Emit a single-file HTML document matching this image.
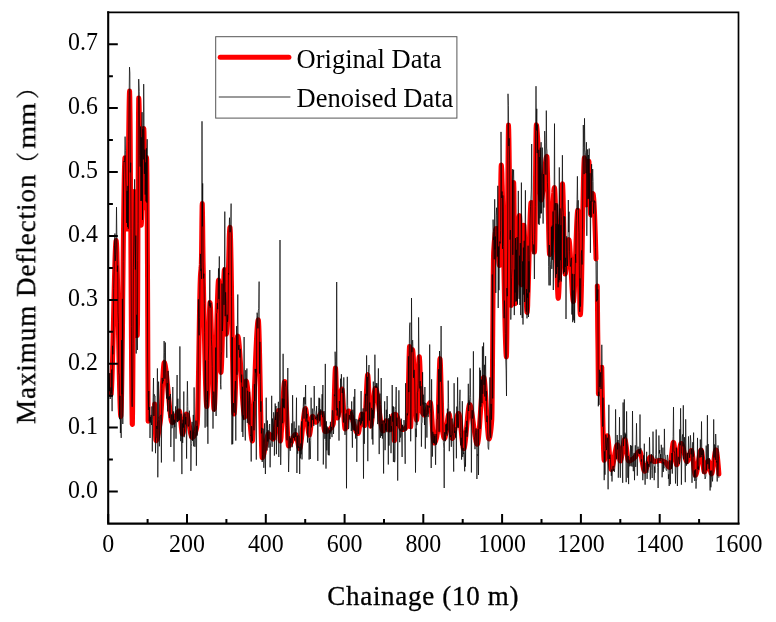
<!DOCTYPE html>
<html lang="en">
<head>
<meta charset="utf-8">
<title>Maximum Deflection vs Chainage</title>
<style>
html,body{margin:0;padding:0;background:#fff;}
body{width:776px;height:622px;overflow:hidden;}
svg{display:block;}
text{font-family:"Liberation Serif","Noto Serif CJK SC",serif;fill:#000;}
.tick{font-size:26px;}
.ttl{font-size:27px;stroke:#000;stroke-width:0.3px;}
.leg{font-size:26.5px;}
</style>
</head>
<body>
<svg width="776" height="622" viewBox="0 0 776 622">
<rect width="776" height="622" fill="#fff"/>
<defs><clipPath id="plot"><rect x="108.2" y="12.3" width="630.3" height="511.2"/></clipPath></defs>
<g clip-path="url(#plot)">
<g fill="none" stroke="#f00" stroke-width="5" stroke-linecap="round" stroke-linejoin="round">
<path d="M108.4 376 L108.6 379.6 L108.8 382.7 L109 385.4 L109.2 387.6 L109.4 389.4 L109.6 390.9 L109.8 392.1 L110 393 L110.2 393.6 L110.4 394 L110.6 394.3 L110.8 394.5 L111 394.5 L111.2 394.1 L111.3 392.4 L111.5 389.6 L111.7 385.7 L111.9 380.8 L112.1 375 L112.3 368.5 L112.5 361.3 L112.7 353.6 L112.9 345.4 L113.1 336.9 L113.3 328.2 L113.5 319.3 L113.7 310.4 L113.9 301.6 L114.1 293 L114.3 284.7 L114.5 276.8 L114.7 269.3 L114.9 262.5 L115.1 256.5 L115.3 251.2 L115.5 246.9 L115.7 243.6 L115.9 241.4 L116.1 240.5 L116.3 241.1 L116.5 243.4 L116.7 247.3 L116.9 252.5 L117 259.1 L117.2 266.7 L117.4 275.3 L117.6 284.7 L117.8 294.7 L118 305.2 L118.2 316 L118.4 327 L118.6 338 L118.8 348.9 L119 359.5 L119.2 369.7 L119.4 379.2 L119.6 388 L119.8 396 L120 402.8 L120.2 408.4 L120.4 412.7 L120.6 415.4 L120.8 416.5 L121 415.1 L121.2 410.7 L121.4 403.4 L121.6 393.7 L121.8 381.8 L122 368 L122.2 352.8 L122.4 336.3 L122.6 319 L122.7 301 L122.9 282.9 L123.1 264.8 L123.3 247.1 L123.5 230.1 L123.7 214.1 L123.9 199.5 L124.1 186.5 L124.3 175.5 L124.5 166.8 L124.7 160.8 L124.9 157.7 L125.1 157.7 L125.3 160.7 L125.5 165.9 L125.7 173 L125.9 181.3 L126.1 190.3 L126.3 199.4 L126.5 208.2 L126.7 216.1 L126.9 222.5 L127.1 227 L127.3 229 L127.5 227 L127.7 219.9 L127.9 208.6 L128.1 194.3 L128.2 177.8 L128.4 160.3 L128.6 142.8 L128.8 126.3 L129 111.8 L129.2 100.4 L129.4 93.2 L129.6 91.1 L129.8 97.4 L130 112.7 L130.2 135.2 L130.4 163.6 L130.6 196.2 L130.8 231.5 L131 268 L131.2 304 L131.4 338.1 L131.6 368.7 L131.8 394.2 L132 413.1 L132.2 423.9 L132.4 424.5 L132.6 411.2 L132.8 386.2 L133 353.2 L133.2 315.8 L133.4 277.8 L133.6 242.7 L133.8 214.3 L133.9 196.1 L134.1 191.6 L134.3 193.9 L134.5 198.9 L134.7 206.3 L134.9 215.7 L135.1 226.6 L135.3 238.7 L135.5 251.5 L135.7 264.7 L135.9 277.9 L136.1 290.7 L136.3 302.6 L136.5 313.2 L136.7 322.3 L136.9 329.2 L137.1 333.8 L137.3 335.5 L137.5 323.9 L137.7 291.7 L137.9 246.8 L138.1 197.1 L138.3 150.4 L138.5 114.8 L138.7 98 L138.9 99.2 L139.1 104.8 L139.3 113.7 L139.5 125.3 L139.6 138.8 L139.8 153.4 L140 168.4 L140.2 183.1 L140.4 196.7 L140.6 208.4 L140.8 217.6 L141 223.4 L141.2 225.2 L141.4 223.3 L141.6 218.6 L141.8 211.7 L142 203 L142.2 193.1 L142.4 182.4 L142.6 171.4 L142.8 160.8 L143 150.8 L143.2 142.1 L143.4 135.2 L143.6 130.5 L143.8 128.5 L144 132.3 L144.2 144.1 L144.4 160.6 L144.6 178.5 L144.8 194.5 L145 205.3 L145.2 207.8 L145.3 204.3 L145.5 197.3 L145.7 188.1 L145.9 178.2 L146.1 168.9 L146.3 161.6 L146.5 157.6 L146.7 159.8 L146.9 173.2 L147.1 197 L147.3 229.8 L147.5 270 L147.7 316.3 L147.9 367.2 L148.1 421.3"/><path d="M154.6 404 L154.8 410.9 L155 417.9 L155.2 424.7 L155.4 430.9 L155.6 435.8 L155.8 439.3 L156 440.7 L156.2 440.7 L156.4 440.5 L156.6 440.2 L156.8 439.9 L157 439.4 L157.2 438.9 L157.4 438.3 L157.6 437.6 L157.8 436.8 L157.9 435.9 L158.1 435 L158.3 434 L158.5 432.9 L158.7 431.8 L158.9 430.7 L159.1 429.5 L159.3 428.3 L159.5 427 L159.7 425.7 L159.9 424.3 L160.1 423 L160.3 421.6 L160.5 420.1 L160.7 418.1 L160.9 415.5 L161.1 412.5 L161.3 409.1 L161.5 405.3 L161.7 401.4 L161.9 397.2 L162.1 393 L162.3 388.8 L162.5 384.6 L162.7 380.6 L162.9 376.8 L163.1 373.3 L163.3 370.1 L163.5 367.4 L163.7 365.2 L163.9 363.6 L164.1 362.7 L164.3 362.5 L164.4 362.7 L164.6 363 L164.8 363.6 L165 364.3 L165.2 365.3 L165.4 366.3 L165.6 367.6 L165.8 368.9 L166 370.4 L166.2 372.1 L166.4 373.8 L166.6 375.6 L166.8 377.5 L167 379.5 L167.2 381.6 L167.4 383.7 L167.6 385.8 L167.8 388 L168 390.2 L168.2 392.4 L168.4 394.7 L168.6 396.9 L168.8 399.1 L169 401.2 L169.2 403.3 L169.4 405.4 L169.6 407.4 L169.8 409.3 L170 411.1 L170.2 412.9 L170.4 414.5 L170.6 416 L170.8 417.4 L170.9 418.6 L171.1 419.7 L171.3 420.7 L171.5 421.4 L171.7 422 L171.9 422.4 L172.1 422.6 L172.3 422.6 L172.5 422.5 L172.7 422.4 L172.9 422.3 L173.1 422.1 L173.3 421.8 L173.5 421.6 L173.7 421.3 L173.9 420.9 L174.1 420.6 L174.3 420.2 L174.5 419.8 L174.7 419.3 L174.9 418.9 L175.1 418.4 L175.3 417.9 L175.5 417.5 L175.7 417 L175.9 416.5 L176.1 416 L176.3 415.5 L176.5 415.1 L176.7 414.6 L176.9 414.2 L177.1 413.7 L177.3 413.3 L177.4 413 L177.6 412.6 L177.8 412.3 L178 412 L178.2 411.7 L178.4 411.5 L178.6 411.3 L178.8 411.1 L179 411.1 L179.2 411 L179.4 411.1 L179.6 411.6 L179.8 412.6 L180 413.9 L180.2 415.5 L180.4 417.4 L180.6 419.4 L180.8 421.5 L181 423.6 L181.2 425.7 L181.4 427.7 L181.6 429.6 L181.8 431.2 L182 432.6 L182.2 433.5 L182.4 434.1 L182.6 434.2 L182.8 433.9 L183 433.4 L183.2 432.7 L183.4 431.7 L183.6 430.6 L183.8 429.3 L183.9 427.9 L184.1 426.5 L184.3 424.9 L184.5 423.4 L184.7 421.9 L184.9 420.4 L185.1 419 L185.3 417.7 L185.5 416.6 L185.7 415.6 L185.9 414.9 L186.1 414.3 L186.3 414 L186.5 414 L186.7 414.2 L186.9 414.5 L187.1 414.9 L187.3 415.5 L187.5 416.2 L187.7 417 L187.9 417.8 L188.1 418.8 L188.3 419.8 L188.5 420.9 L188.7 422 L188.9 423.1 L189.1 424.3 L189.3 425.5 L189.5 426.7 L189.7 427.9 L189.9 429 L190.1 430.2 L190.3 431.2 L190.4 432.3 L190.6 433.3 L190.8 434.2 L191 435 L191.2 435.7 L191.4 436.3 L191.6 436.8 L191.8 437.1 L192 437.3 L192.2 437.4 L192.4 437.4 L192.6 437.3 L192.8 437.2 L193 437.1 L193.2 436.9 L193.4 436.7 L193.6 436.5 L193.8 436.2 L194 435.8 L194.2 435.5 L194.4 435.1 L194.6 434.6 L194.8 434.1 L195 433.6 L195.2 433.1 L195.4 432.5 L195.6 431.8 L195.8 431.2 L196 430.4 L196.2 429.7 L196.4 428.9 L196.6 428 L196.8 427.2 L196.9 426.2 L197.1 425.3 L197.3 423.6 L197.5 419.6 L197.7 413.4 L197.9 405.4 L198.1 395.8 L198.3 385.1 L198.5 373.4 L198.7 361.1 L198.9 348.5 L199.1 335.9 L199.3 323.7 L199.5 312.1 L199.7 301.4 L199.9 292 L200.1 284.2 L200.3 278.3 L200.5 274.4 L200.7 272 L200.9 270 L201.1 267.8 L201.3 264.4 L201.5 255.2 L201.7 238.2 L201.9 219.6 L202.1 206 L202.3 203.5 L202.5 212.6 L202.7 228.4 L202.9 246.2 L203.1 261.4 L203.3 271.9 L203.4 282.4 L203.6 293 L203.8 303.6 L204 314.1 L204.2 324.4 L204.4 334.5 L204.6 344.3 L204.8 353.7 L205 362.6 L205.2 370.9 L205.4 378.5 L205.6 385.4 L205.8 391.5 L206 396.7 L206.2 400.8 L206.4 403.9 L206.6 405.8 L206.8 406.5 L207 405.4 L207.2 402.2 L207.4 397.3 L207.6 390.8 L207.8 383.2 L208 374.6 L208.2 365.4 L208.4 355.9 L208.6 346.3 L208.8 337 L209 328.2 L209.2 320.3 L209.4 313.4 L209.6 308 L209.8 304.3 L209.9 302.6 L210.1 302.9 L210.3 304.6 L210.5 307.5 L210.7 311.6 L210.9 316.6 L211.1 322.3 L211.3 328.8 L211.5 335.8 L211.7 343.1 L211.9 350.7 L212.1 358.4 L212.3 366 L212.5 373.5 L212.7 380.6 L212.9 387.3 L213.1 393.3 L213.3 398.6 L213.5 403 L213.7 406.3 L213.9 408.5 L214.1 409.3 L214.3 408.7 L214.5 406.7 L214.7 403.5 L214.9 399.2 L215.1 393.9 L215.3 387.8 L215.5 380.9 L215.7 373.5 L215.9 365.6 L216.1 357.4 L216.3 348.9 L216.4 340.5 L216.6 332 L216.8 323.8 L217 315.9 L217.2 308.5 L217.4 301.6 L217.6 295.5 L217.8 290.2 L218 285.8 L218.2 282.6 L218.4 280.6 L218.6 280 L218.8 282.2 L219 287.7 L219.2 295.8 L219.4 305.9 L219.6 317.2 L219.8 329.1 L220 340.7 L220.2 351.6 L220.4 360.8 L220.6 367.8 L220.8 371.9 L221 372.5 L221.2 370.9 L221.4 367.8 L221.6 363.3 L221.8 357.6 L222 351 L222.2 343.6 L222.4 335.7 L222.6 327.4 L222.8 318.9 L222.9 310.6 L223.1 302.4 L223.3 294.8 L223.5 287.7 L223.7 281.6 L223.9 276.5 L224.1 272.7 L224.3 270.3 L224.5 269.6 L224.7 272.3 L224.9 278.4 L225.1 287 L225.3 297.1 L225.5 307.7 L225.7 317.7 L225.9 326.1 L226.1 332 L226.3 334.2 L226.5 333.4 L226.7 330.9 L226.9 327 L227.1 321.9 L227.3 315.7 L227.5 308.6 L227.7 300.9 L227.9 292.7 L228.1 284.3 L228.3 275.8 L228.5 267.4 L228.7 259.2 L228.9 251.6 L229.1 244.7 L229.2 238.7 L229.4 233.8 L229.6 230.1 L229.8 227.9 L230 227.3 L230.2 229.2 L230.4 233.4 L230.6 239.7 L230.8 247.9 L231 257.7 L231.2 268.8 L231.4 281 L231.6 293.9 L231.8 307.4 L232 321.2 L232.2 334.9 L232.4 348.4 L232.6 361.3 L232.8 373.4 L233 384.4 L233.2 394.1 L233.4 402.2 L233.6 408.3 L233.8 412.4 L234 414 L234.2 413.5 L234.4 411.8 L234.6 409 L234.8 405.4 L235 400.9 L235.2 395.8 L235.4 390.3 L235.6 384.3 L235.7 378.2 L235.9 371.9 L236.1 365.8 L236.3 359.8 L236.5 354.3 L236.7 349.2 L236.9 344.7 L237.1 341 L237.3 338.2 L237.5 336.5 L237.7 336 L237.9 336.2 L238.1 336.8 L238.3 337.7 L238.5 338.9 L238.7 340.4 L238.9 342.2 L239.1 344.2 L239.3 346.4 L239.5 348.9 L239.7 351.5 L239.9 354.3 L240.1 357.3 L240.3 360.3 L240.5 363.5 L240.7 366.7 L240.9 370 L241.1 373.4 L241.3 376.8 L241.5 380.1 L241.7 383.5 L241.9 386.8 L242.1 390 L242.2 393.2 L242.4 396.2 L242.6 399.1 L242.8 401.9 L243 404.5 L243.2 406.9 L243.4 409.1 L243.6 411.1 L243.8 412.8 L244 414.3 L244.2 415.5 L244.4 416.3 L244.6 416.8 L244.8 417 L245 414.9 L245.2 409.7 L245.4 402.8 L245.6 395.2 L245.8 388.3 L246 383.1 L246.2 381 L246.4 381.2 L246.6 381.7 L246.8 382.5 L247 383.6 L247.2 385 L247.4 386.6 L247.6 388.5 L247.8 390.5 L248 392.8 L248.2 395.2 L248.4 397.7 L248.6 400.4 L248.7 403.1 L248.9 405.9 L249.1 408.7 L249.3 411.6 L249.5 414.4 L249.7 417.3 L249.9 420 L250.1 422.7 L250.3 425.3 L250.5 427.8 L250.7 430.2 L250.9 432.3 L251.1 434.3 L251.3 436.1 L251.5 437.6 L251.7 438.9 L251.9 439.9 L252.1 440.6 L252.3 440.9 L252.5 440.7 L252.7 438.3 L252.9 433.8 L253.1 427.9 L253.3 421.2 L253.5 414.1 L253.7 407.3 L253.9 401.2 L254.1 396.5 L254.3 391.9 L254.5 387.3 L254.7 382.5 L254.9 377.7 L255.1 372.8 L255.2 368 L255.4 363.2 L255.6 358.4 L255.8 353.8 L256 349.4 L256.2 345.1 L256.4 341 L256.6 337.2 L256.8 333.7 L257 330.4 L257.2 327.6 L257.4 325.1 L257.6 323.1 L257.8 321.5 L258 320.4 L258.2 319.9 L258.4 320.1 L258.6 322.1 L258.8 325.9 L259 331.3 L259.2 338 L259.4 345.9 L259.6 354.7 L259.8 364.3 L260 374.3 L260.2 384.7 L260.4 395.1 L260.6 405.4 L260.8 415.4 L261 424.8 L261.2 433.4 L261.4 441.1 L261.6 447.6 L261.7 452.6 L261.9 456 L262.1 457.6 L262.3 457.7 L262.5 457.5 L262.7 457.2 L262.9 456.9 L263.1 456.4 L263.3 455.8 L263.5 455.1 L263.7 454.4 L263.9 453.6 L264.1 452.7 L264.3 451.8 L264.5 450.8 L264.7 449.8 L264.9 448.7 L265.1 447.6 L265.3 446.6 L265.5 445.5 L265.7 444.4 L265.9 443.3 L266.1 442.2 L266.3 441.2 L266.5 440.2 L266.7 439.2 L266.9 438.3 L267.1 437.5 L267.3 436.7 L267.5 436 L267.7 435.4 L267.9 434.8 L268.1 434.4 L268.2 434 L268.4 433.8 L268.6 433.7 L268.8 433.7 L269 433.8 L269.2 433.9 L269.4 434.1 L269.6 434.3 L269.8 434.5 L270 434.8 L270.2 435.1 L270.4 435.4 L270.6 435.8 L270.8 436.1 L271 436.5 L271.2 436.8 L271.4 437.1 L271.6 437.5 L271.8 437.8 L272 438.1 L272.2 438.3 L272.4 438.5 L272.6 438.7 L272.8 438.9 L273 439 L273.2 439 L273.4 438.9 L273.6 438.6 L273.8 438.2 L274 437.5 L274.2 436.7 L274.4 435.8 L274.6 434.7 L274.7 433.5 L274.9 432.2 L275.1 430.8 L275.3 429.4 L275.5 427.9 L275.7 426.4 L275.9 424.9 L276.1 423.4 L276.3 421.9 L276.5 420.4 L276.7 418.9 L276.9 417.6 L277.1 416.3 L277.3 415 L277.5 413.9 L277.7 413 L277.9 412.1 L278.1 411.5 L278.3 410.9 L278.5 410.6 L278.7 410.5 L278.9 411.6 L279.1 414.9 L279.3 419.6 L279.5 425.1 L279.7 430.6 L279.9 435.6 L280.1 439.2 L280.3 441 L280.5 440.8 L280.7 439.9 L280.9 438.4 L281.1 436.4 L281.2 433.9 L281.4 431 L281.6 427.8 L281.8 424.2 L282 420.5 L282.2 416.6 L282.4 412.7 L282.6 408.7 L282.8 404.7 L283 400.9 L283.2 397.2 L283.4 393.8 L283.6 390.6 L283.8 387.8 L284 385.5 L284.2 383.6 L284.4 382.3 L284.6 381.6 L284.8 381.6 L285 382.5 L285.2 384.3 L285.4 386.8 L285.6 389.9 L285.8 393.6 L286 397.7 L286.2 402.2 L286.4 406.9 L286.6 411.7 L286.8 416.6 L287 421.4 L287.2 426.1 L287.4 430.5 L287.6 434.5 L287.7 438.1 L287.9 441.2 L288.1 443.5 L288.3 445.2 L288.5 445.9 L288.7 446 L288.9 445.9 L289.1 445.8 L289.3 445.7 L289.5 445.5 L289.7 445.2 L289.9 445 L290.1 444.6 L290.3 444.3 L290.5 443.9 L290.7 443.5 L290.9 443.1 L291.1 442.7 L291.3 442.3 L291.5 441.8 L291.7 441.3 L291.9 440.8 L292.1 440.4 L292.3 439.9 L292.5 439.4 L292.7 438.9 L292.9 438.5 L293.1 438 L293.3 437.6 L293.5 437.1 L293.7 436.7 L293.9 436.3 L294.1 436 L294.2 435.7 L294.4 435.4 L294.6 435.1 L294.8 434.9 L295 434.7 L295.2 434.5 L295.4 434.4 L295.6 434.4 L295.8 434.4 L296 434.7 L296.2 435.1 L296.4 435.7 L296.6 436.4 L296.8 437.2 L297 438.1 L297.2 439.1 L297.4 440.2 L297.6 441.3 L297.8 442.3 L298 443.4 L298.2 444.4 L298.4 445.4 L298.6 446.3 L298.8 447.1 L299 447.7 L299.2 448.2 L299.4 448.6 L299.6 448.7 L299.8 448.6 L300 448.3 L300.2 447.7 L300.4 446.8 L300.6 445.8 L300.7 444.6 L300.9 443.2 L301.1 441.7 L301.3 440 L301.5 438.3 L301.7 436.4 L301.9 434.5 L302.1 432.5 L302.3 430.5 L302.5 428.4 L302.7 426.4 L302.9 424.4 L303.1 422.4 L303.3 420.5 L303.5 418.6 L303.7 416.9 L303.9 415.3 L304.1 413.8 L304.3 412.4 L304.5 411.2 L304.7 410.3 L304.9 409.5 L305.1 408.9 L305.3 408.7 L305.5 408.6 L305.7 409 L305.9 409.7 L306.1 410.7 L306.3 411.9 L306.5 413.4 L306.7 415.1 L306.9 416.9 L307.1 418.9 L307.2 420.9 L307.4 422.9 L307.6 424.9 L307.8 426.8 L308 428.6 L308.2 430.3 L308.4 431.8 L308.6 433.1 L308.8 434.1 L309 434.8 L309.2 435.2 L309.4 435.1 L309.6 434.7 L309.8 433.9 L310 432.8 L310.2 431.5 L310.4 430 L310.6 428.4 L310.8 426.7 L311 424.9 L311.2 423.2 L311.4 421.6 L311.6 420.1 L311.8 418.7 L312 417.7 L312.2 416.9 L312.4 416.4 L312.6 416.3 L312.8 416.4 L313 416.6 L313.2 417 L313.4 417.4 L313.6 417.8 L313.7 418.3 L313.9 418.9 L314.1 419.4 L314.3 420 L314.5 420.5 L314.7 421 L314.9 421.4 L315.1 421.8 L315.3 422.1 L315.5 422.2 L315.7 422.3 L315.9 422.3 L316.1 422.2 L316.3 422 L316.5 421.8 L316.7 421.6 L316.9 421.3 L317.1 420.9 L317.3 420.6 L317.5 420.2 L317.7 419.8 L317.9 419.3 L318.1 418.9 L318.3 418.4 L318.5 417.9 L318.7 417.5 L318.9 417 L319.1 416.5 L319.3 416.1 L319.5 415.6 L319.7 415.2 L319.9 414.8 L320.1 414.5 L320.2 414.1 L320.4 413.8 L320.6 413.6 L320.8 413.3 L321 413.2 L321.2 413.1 L321.4 413 L321.6 413.1 L321.8 413.4 L322 414.1 L322.2 415 L322.4 416.1 L322.6 417.4 L322.8 418.8 L323 420.3 L323.2 421.9 L323.4 423.4 L323.6 425 L323.8 426.4 L324 427.8 L324.2 429 L324.4 430 L324.6 430.8 L324.8 431.3 L325 431.5 L325.2 431.5 L325.4 431.5 L325.6 431.5 L325.8 431.5 L326 431.4 L326.2 431.4 L326.4 431.4 L326.6 431.3 L326.7 431.3 L326.9 431.2 L327.1 431.1 L327.3 431.1 L327.5 431 L327.7 430.9 L327.9 430.8 L328.1 430.7 L328.3 430.6 L328.5 430.4 L328.7 430.3 L328.9 430.1 L329.1 430 L329.3 429.8 L329.5 429.7 L329.7 429.5 L329.9 429.3 L330.1 429.1 L330.3 428.8 L330.5 428.6 L330.7 428.4 L330.9 428.1 L331.1 427.9 L331.3 427.6 L331.5 427.3 L331.7 427 L331.9 426.7 L332.1 426.4 L332.3 426 L332.5 425.7 L332.7 425.3 L332.9 424.9 L333.1 424.5 L333.2 424.1 L333.4 423 L333.6 419.8 L333.8 414.9 L334 408.6 L334.2 401.6 L334.4 394.1 L334.6 386.8 L334.8 380.1 L335 374.4 L335.2 370.2 L335.4 367.9 L335.6 368.3 L335.8 371.6 L336 377.4 L336.2 384.7 L336.4 392.8 L336.6 400.9 L336.8 408.3 L337 414 L337.2 417.4 L337.4 418 L337.6 417.7 L337.8 417.1 L338 416.3 L338.2 415.3 L338.4 414 L338.6 412.6 L338.8 411.1 L339 409.4 L339.2 407.6 L339.4 405.8 L339.6 404 L339.7 402.1 L339.9 400.3 L340.1 398.5 L340.3 396.8 L340.5 395.1 L340.7 393.7 L340.9 392.3 L341.1 391.2 L341.3 390.3 L341.5 389.6 L341.7 389.1 L341.9 389 L342.1 389.5 L342.3 390.8 L342.5 392.8 L342.7 395.3 L342.9 398.3 L343.1 401.6 L343.3 405.1 L343.5 408.8 L343.7 412.5 L343.9 416.1 L344.1 419.4 L344.3 422.4 L344.5 425 L344.7 427 L344.9 428.4 L345.1 429 L345.3 428.9 L345.5 428.4 L345.7 427.7 L345.9 426.7 L346.1 425.6 L346.2 424.2 L346.4 422.8 L346.6 421.3 L346.8 419.7 L347 418.1 L347.2 416.6 L347.4 415.2 L347.6 414 L347.8 412.9 L348 412 L348.2 411.4 L348.4 411 L348.6 411 L348.8 411.1 L349 411.2 L349.2 411.4 L349.4 411.6 L349.6 411.8 L349.8 412.1 L350 412.5 L350.2 412.9 L350.4 413.3 L350.6 413.8 L350.8 414.3 L351 414.8 L351.2 415.3 L351.4 415.9 L351.6 416.5 L351.8 417.1 L352 417.8 L352.2 418.4 L352.4 419.1 L352.6 419.8 L352.7 420.5 L352.9 421.2 L353.1 421.9 L353.3 422.6 L353.5 423.3 L353.7 424 L353.9 424.6 L354.1 425.3 L354.3 426 L354.5 426.7 L354.7 427.3 L354.9 427.9 L355.1 428.5 L355.3 429.1 L355.5 429.7 L355.7 430.2 L355.9 430.7 L356.1 431.2 L356.3 431.6 L356.5 432 L356.7 432.3 L356.9 432.6 L357.1 432.9 L357.3 433.1 L357.5 433.3 L357.7 433.4 L357.9 433.5 L358.1 433.5 L358.3 433.2 L358.5 432.8 L358.7 432 L358.9 431.1 L359.1 430 L359.2 428.8 L359.4 427.5 L359.6 426 L359.8 424.6 L360 423.1 L360.2 421.6 L360.4 420.2 L360.6 418.9 L360.8 417.6 L361 416.5 L361.2 415.6 L361.4 414.8 L361.6 414.3 L361.8 414 L362 414.1 L362.2 414.4 L362.4 415.1 L362.6 416.1 L362.8 417.2 L363 418.5 L363.2 419.8 L363.4 421.1 L363.6 422.4 L363.8 423.6 L364 424.5 L364.2 425.3 L364.4 425.7 L364.6 425.7 L364.8 424.8 L365 422.9 L365.2 420.2 L365.4 416.8 L365.6 412.9 L365.7 408.6 L365.9 404 L366.1 399.3 L366.3 394.6 L366.5 390.1 L366.7 385.9 L366.9 382.2 L367.1 379 L367.3 376.7 L367.5 375.2 L367.7 374.7 L367.9 375.5 L368.1 377.5 L368.3 380.5 L368.5 384.4 L368.7 388.8 L368.9 393.7 L369.1 398.9 L369.3 404.1 L369.5 409.2 L369.7 413.9 L369.9 418.2 L370.1 421.6 L370.3 424.2 L370.5 425.7 L370.7 426 L370.9 425.7 L371.1 425 L371.3 424 L371.5 422.8 L371.7 421.3 L371.9 419.6 L372.1 417.8 L372.2 415.7 L372.4 413.6 L372.6 411.3 L372.8 409.1 L373 406.7 L373.2 404.4 L373.4 402.2 L373.6 399.9 L373.8 397.8 L374 395.9 L374.2 394 L374.4 392.4 L374.6 391 L374.8 389.9 L375 389 L375.2 388.5 L375.4 388.3 L375.6 388.4 L375.8 388.6 L376 389 L376.2 389.6 L376.4 390.3 L376.6 391.1 L376.8 392 L377 393 L377.2 394.2 L377.4 395.4 L377.6 396.7 L377.8 398.1 L378 399.6 L378.2 401.1 L378.4 402.6 L378.5 404.2 L378.7 405.8 L378.9 407.5 L379.1 409.2 L379.3 410.8 L379.5 412.5 L379.7 414.1 L379.9 415.7 L380.1 417.3 L380.3 418.8 L380.5 420.3 L380.7 421.8 L380.9 423.1 L381.1 424.4 L381.3 425.6 L381.5 426.7 L381.7 427.7 L381.9 428.6 L382.1 429.3 L382.3 430 L382.5 430.4 L382.7 430.8 L382.9 431 L383.1 431 L383.3 430.8 L383.5 430.4 L383.7 429.8 L383.9 429.2 L384.1 428.4 L384.3 427.5 L384.5 426.6 L384.7 425.6 L384.9 424.7 L385 423.8 L385.2 423 L385.4 422.2 L385.6 421.6 L385.8 421.2 L386 420.9 L386.2 420.8 L386.4 420.9 L386.6 421.3 L386.8 421.8 L387 422.4 L387.2 423.1 L387.4 423.9 L387.6 424.8 L387.8 425.7 L388 426.5 L388.2 427.4 L388.4 428.1 L388.6 428.8 L388.8 429.3 L389 429.7 L389.2 430 L389.4 430 L389.6 429.8 L389.8 429.4 L390 428.9 L390.2 428.3 L390.4 427.5 L390.6 426.6 L390.8 425.6 L391 424.6 L391.2 423.6 L391.4 422.5 L391.5 421.4 L391.7 420.4 L391.9 419.3 L392.1 418.4 L392.3 417.5 L392.5 416.7 L392.7 416.1 L392.9 415.5 L393.1 415.2 L393.3 415 L393.5 416 L393.7 421.2 L393.9 428.7 L394.1 436 L394.3 440.7 L394.5 440.5 L394.7 435.4 L394.9 427.9 L395.1 420.3 L395.3 415.2 L395.5 414.3 L395.7 414.4 L395.9 414.5 L396.1 414.7 L396.3 415 L396.5 415.3 L396.7 415.7 L396.9 416.1 L397.1 416.6 L397.3 417.1 L397.5 417.6 L397.7 418.2 L397.9 418.8 L398 419.4 L398.2 420.1 L398.4 420.7 L398.6 421.4 L398.8 422 L399 422.7 L399.2 423.3 L399.4 424 L399.6 424.6 L399.8 425.2 L400 425.8 L400.2 426.4 L400.4 426.9 L400.6 427.4 L400.8 427.8 L401 428.3 L401.2 428.6 L401.4 428.9 L401.6 429.2 L401.8 429.3 L402 429.5 L402.2 429.5 L402.4 429.5 L402.6 429.5 L402.8 429.5 L403 429.4 L403.2 429.4 L403.4 429.3 L403.6 429.3 L403.8 429.2 L404 429.1 L404.2 429.1 L404.4 429 L404.5 428.9 L404.7 428.7 L404.9 428.6 L405.1 428.5 L405.3 428.3 L405.5 428.1 L405.7 427.9 L405.9 427.7 L406.1 427.5 L406.3 427.3 L406.5 427.1 L406.7 426.8 L406.9 426.6 L407.1 426.3 L407.3 426 L407.5 424 L407.7 419.1 L407.9 412 L408.1 403.3 L408.3 393.6 L408.5 383.4 L408.7 373.3 L408.9 364 L409.1 356 L409.3 350 L409.5 346.4 L409.7 346.9 L409.9 360 L410.1 382 L410.3 405.3 L410.5 422.6 L410.7 426.8 L410.9 423.3 L411 416.1 L411.2 406.2 L411.4 394.8 L411.6 382.8 L411.8 371.3 L412 361.3 L412.2 353.8 L412.4 349.9 L412.6 349.8 L412.8 350.8 L413 352.7 L413.2 355.3 L413.4 358.5 L413.6 362.3 L413.8 366.5 L414 371.1 L414.2 375.9 L414.4 380.9 L414.6 385.9 L414.8 391 L415 395.9 L415.2 400.6 L415.4 405.1 L415.6 409.1 L415.8 412.6 L416 415.6 L416.2 417.8 L416.4 419.3 L416.6 420 L416.8 419.3 L417 417 L417.2 413.1 L417.4 408 L417.5 402 L417.7 395.5 L417.9 388.6 L418.1 381.7 L418.3 375.1 L418.5 369.1 L418.7 364 L418.9 360 L419.1 357.5 L419.3 356.7 L419.5 357.9 L419.7 360.9 L419.9 365.2 L420.1 370.6 L420.3 376.7 L420.5 383.1 L420.7 389.7 L420.9 395.9 L421.1 401.4 L421.3 406 L421.5 409.3 L421.7 411 L421.9 411.5 L422.1 412 L422.3 412.4 L422.5 412.9 L422.7 413.2 L422.9 413.6 L423.1 413.9 L423.3 414.2 L423.5 414.4 L423.7 414.6 L423.9 414.8 L424 414.9 L424.2 415 L424.4 415 L424.6 415 L424.8 414.9 L425 414.7 L425.2 414.5 L425.4 414.1 L425.6 413.8 L425.8 413.3 L426 412.9 L426.2 412.4 L426.4 411.8 L426.6 411.2 L426.8 410.6 L427 410 L427.2 409.4 L427.4 408.8 L427.6 408.1 L427.8 407.5 L428 406.9 L428.2 406.3 L428.4 405.7 L428.6 405.1 L428.8 404.6 L429 404.2 L429.2 403.7 L429.4 403.4 L429.6 403.1 L429.8 402.8 L430 402.6 L430.2 402.5 L430.4 402.5 L430.5 403 L430.7 404 L430.9 405.6 L431.1 407.6 L431.3 409.9 L431.5 412.5 L431.7 415.4 L431.9 418.4 L432.1 421.5 L432.3 424.7 L432.5 427.8 L432.7 430.8 L432.9 433.6 L433.1 436.2 L433.3 438.4 L433.5 440.3 L433.7 441.8 L433.9 442.7 L434.1 443 L434.3 443 L434.5 442.9 L434.7 442.7 L434.9 442.4 L435.1 442.1 L435.3 441.7 L435.5 441.2 L435.7 440.7 L435.9 440.1 L436.1 439.4 L436.3 438.7 L436.5 437.9 L436.7 437 L436.9 436.1 L437 435.1 L437.2 434 L437.4 432.9 L437.6 431.7 L437.8 428.8 L438 423.9 L438.2 417.4 L438.4 409.7 L438.6 401.3 L438.8 392.5 L439 384 L439.2 376 L439.4 369 L439.6 363.5 L439.8 359.9 L440 358.6 L440.2 359.9 L440.4 363.4 L440.6 368.8 L440.8 375.5 L441 383.3 L441.2 391.6 L441.4 400 L441.6 408.2 L441.8 415.7 L442 422 L442.2 426.9 L442.4 429.7 L442.6 431.1 L442.8 432.4 L443 433.5 L443.2 434.6 L443.4 435.6 L443.5 436.4 L443.7 437.1 L443.9 437.7 L444.1 438.1 L444.3 438.3 L444.5 438.4 L444.7 438.2 L444.9 437.8 L445.1 437.1 L445.3 436.3 L445.5 435.2 L445.7 434 L445.9 432.7 L446.1 431.3 L446.3 429.8 L446.5 428.2 L446.7 426.6 L446.9 425 L447.1 423.4 L447.3 421.9 L447.5 420.4 L447.7 419 L447.9 417.8 L448.1 416.6 L448.3 415.7 L448.5 414.9 L448.7 414.4 L448.9 414.1 L449.1 414 L449.3 414.5 L449.5 415.4 L449.7 416.6 L449.9 418.3 L450 420.1 L450.2 422.2 L450.4 424.4 L450.6 426.7 L450.8 428.9 L451 431 L451.2 433 L451.4 434.8 L451.6 436.3 L451.8 437.5 L452 438.2 L452.2 438.4 L452.4 438.3 L452.6 438.1 L452.8 437.8 L453 437.3 L453.2 436.8 L453.4 436.1 L453.6 435.4 L453.8 434.5 L454 433.6 L454.2 432.7 L454.4 431.7 L454.6 430.6 L454.8 429.5 L455 428.4 L455.2 427.2 L455.4 426.1 L455.6 424.9 L455.8 423.8 L456 422.7 L456.2 421.6 L456.4 420.5 L456.5 419.5 L456.7 418.5 L456.9 417.6 L457.1 416.7 L457.3 415.9 L457.5 415.3 L457.7 414.7 L457.9 414.2 L458.1 413.8 L458.3 413.5 L458.5 413.4 L458.7 413.5 L458.9 413.8 L459.1 414.3 L459.3 415.2 L459.5 416.2 L459.7 417.5 L459.9 418.9 L460.1 420.5 L460.3 422.2 L460.5 424 L460.7 425.9 L460.9 427.8 L461.1 429.8 L461.3 431.8 L461.5 433.8 L461.7 435.8 L461.9 437.7 L462.1 439.5 L462.3 441.2 L462.5 442.9 L462.7 444.3 L462.9 445.6 L463 446.7 L463.2 447.6 L463.4 448.2 L463.6 448.6 L463.8 448.7 L464 448.5 L464.2 448 L464.4 447.3 L464.6 446.3 L464.8 445.1 L465 443.7 L465.2 442.1 L465.4 440.3 L465.6 438.5 L465.8 436.5 L466 434.4 L466.2 432.2 L466.4 430 L466.6 427.8 L466.8 425.5 L467 423.3 L467.2 421.1 L467.4 418.9 L467.6 416.8 L467.8 414.8 L468 412.9 L468.2 411.2 L468.4 409.6 L468.6 408.1 L468.8 406.9 L469 405.9 L469.2 405.1 L469.4 404.6 L469.5 404.4 L469.7 404.4 L469.9 404.6 L470.1 405 L470.3 405.4 L470.5 406 L470.7 406.7 L470.9 407.5 L471.1 408.5 L471.3 409.5 L471.5 410.6 L471.7 411.8 L471.9 413 L472.1 414.3 L472.3 415.7 L472.5 417.1 L472.7 418.6 L472.9 420 L473.1 421.5 L473.3 423.1 L473.5 424.6 L473.7 426.1 L473.9 427.6 L474.1 429.1 L474.3 430.6 L474.5 432 L474.7 433.4 L474.9 434.8 L475.1 436.1 L475.3 437.3 L475.5 438.5 L475.7 439.5 L475.9 440.5 L476 441.4 L476.2 442.2 L476.4 442.8 L476.6 443.4 L476.8 443.8 L477 444.1 L477.2 444.2 L477.4 444.1 L477.6 443.7 L477.8 443 L478 441.9 L478.2 440.6 L478.4 439 L478.6 437.2 L478.8 435.1 L479 432.8 L479.2 430.4 L479.4 427.8 L479.6 425.1 L479.8 422.3 L480 419.4 L480.2 416.4 L480.4 413.4 L480.6 410.3 L480.8 407.3 L481 404.3 L481.2 401.3 L481.4 398.4 L481.6 395.6 L481.8 392.9 L482 390.4 L482.2 388 L482.4 385.8 L482.5 383.8 L482.7 382 L482.9 380.5 L483.1 379.2 L483.3 378.3 L483.5 377.6 L483.7 377.3 L483.9 377.4 L484.1 378 L484.3 379.1 L484.5 380.6 L484.7 382.5 L484.9 384.8 L485.1 387.4 L485.3 390.3 L485.5 393.3 L485.7 396.6 L485.9 400 L486.1 403.5 L486.3 407.1 L486.5 410.6 L486.7 414.2 L486.9 417.6 L487.1 421 L487.3 424.2 L487.5 427.2 L487.7 429.9 L487.9 432.4 L488.1 434.6 L488.3 436.3 L488.5 437.7 L488.7 438.6 L488.9 439 L489 439 L489.2 438.7 L489.4 438.3 L489.6 437.8 L489.8 437 L490 436.1 L490.2 435 L490.4 433.7 L490.6 432.3 L490.8 430.7 L491 428.9 L491.2 426.9 L491.4 424.8 L491.6 422.4 L491.8 419.9 L492 412.4 L492.2 396.9 L492.4 375.7 L492.6 350.9 L492.8 324.9 L493 299.9 L493.2 278 L493.4 261.4 L493.6 252.4 L493.8 249.1 L494 246.1 L494.2 243.3 L494.4 240.8 L494.6 238.4 L494.8 236.4 L495 234.5 L495.2 232.9 L495.4 231.5 L495.5 230.4 L495.7 229.5 L495.9 228.9 L496.1 228.6 L496.3 228.5 L496.5 229.1 L496.7 230.3 L496.9 232.2 L497.1 234.6 L497.3 237.4 L497.5 240.5 L497.7 243.8 L497.9 247.2 L498.1 250.6 L498.3 253.9 L498.5 256.9 L498.7 259.7 L498.9 262 L499.1 263.9 L499.3 265 L499.5 265.5 L499.7 262.2 L499.9 252.6 L500.1 238.5 L500.3 221.8 L500.5 204.4 L500.7 188.2 L500.9 175 L501.1 166.7 L501.3 164.9 L501.5 166.2 L501.7 168.9 L501.9 173.1 L502 178.4 L502.2 184.9 L502.4 192.4 L502.6 200.8 L502.8 209.9 L503 219.6 L503.2 229.8 L503.4 240.3 L503.6 251.1 L503.8 262 L504 272.9 L504.2 283.7 L504.4 294.2 L504.6 304.3 L504.8 313.8 L505 322.8 L505.2 331 L505.4 338.3 L505.6 344.5 L505.8 349.7 L506 353.6 L506.2 356 L506.4 357 L506.6 352.3 L506.8 337.5 L507 314.8 L507.2 286.5 L507.4 254.9 L507.6 222.3 L507.8 191.1 L508 163.4 L508.2 141.7 L508.4 128.2 L508.5 125 L508.7 129 L508.9 137.7 L509.1 150.4 L509.3 166.1 L509.5 184 L509.7 203.3 L509.9 223 L510.1 242.5 L510.3 260.8 L510.5 277.1 L510.7 290.5 L510.9 300.2 L511.1 305.4 L511.3 305.4 L511.5 301 L511.7 293.2 L511.9 282.6 L512.1 270 L512.3 256.1 L512.5 241.5 L512.7 227.1 L512.9 213.6 L513.1 201.7 L513.3 192 L513.5 185.4 L513.7 182.6 L513.9 188.8 L514.1 209 L514.3 237.1 L514.5 266.4 L514.7 290.7 L514.9 303.4 L515 303.7 L515.2 302.6 L515.4 300.6 L515.6 297.9 L515.8 294.5 L516 290.5 L516.2 286.1 L516.4 281.2 L516.6 276 L516.8 270.6 L517 265 L517.2 259.3 L517.4 253.6 L517.6 248 L517.8 242.6 L518 237.5 L518.2 232.7 L518.4 228.3 L518.6 224.4 L518.8 221.1 L519 218.5 L519.2 216.6 L519.4 215.6 L519.6 215.8 L519.8 219.7 L520 227.2 L520.2 237 L520.4 248.1 L520.6 259.4 L520.8 269.8 L521 278.2 L521.2 283.5 L521.4 284.7 L521.5 283.2 L521.7 279.8 L521.9 275 L522.1 269.2 L522.3 262.5 L522.5 255.6 L522.7 248.5 L522.9 241.8 L523.1 235.8 L523.3 230.8 L523.5 227.1 L523.7 225.2 L523.9 225.3 L524.1 227.3 L524.3 230.8 L524.5 235.8 L524.7 241.8 L524.9 248.8 L525.1 256.3 L525.3 264.3 L525.5 272.3 L525.7 280.3 L525.9 287.9 L526.1 294.9 L526.3 301.1 L526.5 306.2 L526.7 310 L526.9 312.1 L527.1 312.5 L527.3 311.3 L527.5 308.8 L527.7 305.1 L527.8 300.4 L528 294.7 L528.2 288.3 L528.4 281.4 L528.6 273.9 L528.8 266.2 L529 258.3 L529.2 250.4 L529.4 242.6 L529.6 235.1 L529.8 228 L530 221.5 L530.2 215.7 L530.4 210.8 L530.6 206.9 L530.8 204.1 L531 202.7 L531.2 202.6 L531.4 203.5 L531.6 205.2 L531.8 207.5 L532 210.4 L532.2 213.8 L532.4 217.5 L532.6 221.5 L532.8 225.6 L533 229.8 L533.2 233.9 L533.4 237.9 L533.6 241.5 L533.8 244.8 L534 247.6 L534.2 249.8 L534.3 251.3 L534.5 252 L534.7 249.4 L534.9 238.7 L535.1 221.9 L535.3 201.3 L535.5 179.3 L535.7 158.3 L535.9 140.6 L536.1 128.7 L536.3 124.8 L536.5 125.2 L536.7 126.3 L536.9 128 L537.1 130.3 L537.3 133 L537.5 136.1 L537.7 139.7 L537.9 143.5 L538.1 147.6 L538.3 151.9 L538.5 156.3 L538.7 160.9 L538.9 165.4 L539.1 169.9 L539.3 174.3 L539.5 178.5 L539.7 182.5 L539.9 186.3 L540.1 189.7 L540.3 192.7 L540.5 195.3 L540.7 197.4 L540.8 198.9 L541 199.8 L541.2 200 L541.4 199.8 L541.6 199.2 L541.8 198.4 L542 197.4 L542.2 196.1 L542.4 194.7 L542.6 193 L542.8 191.2 L543 189.2 L543.2 187.1 L543.4 185 L543.6 182.8 L543.8 180.5 L544 178.2 L544.2 175.9 L544.4 173.6 L544.6 171.4 L544.8 169.2 L545 167.2 L545.2 165.2 L545.4 163.4 L545.6 161.7 L545.8 160.3 L546 159 L546.2 157.9 L546.4 157.1 L546.6 156.6 L546.8 156.4 L547 157.3 L547.2 160.7 L547.3 166.3 L547.5 173.6 L547.7 182.3 L547.9 192 L548.1 202.2 L548.3 212.5 L548.5 222.6 L548.7 232 L548.9 240.2 L549.1 247 L549.3 251.8 L549.5 254.3 L549.7 254.5 L549.9 253.8 L550.1 252.6 L550.3 250.8 L550.5 248.6 L550.7 246 L550.9 243 L551.1 239.8 L551.3 236.2 L551.5 232.5 L551.7 228.6 L551.9 224.6 L552.1 220.6 L552.3 216.5 L552.5 212.6 L552.7 208.7 L552.9 205 L553.1 201.5 L553.3 198.3 L553.5 195.4 L553.7 192.9 L553.8 190.8 L554 189.2 L554.2 188.1 L554.4 187.6 L554.6 188 L554.8 190.1 L555 193.8 L555.2 198.8 L555.4 204.9 L555.6 212 L555.8 219.8 L556 228.2 L556.2 236.9 L556.4 245.7 L556.6 254.5 L556.8 263 L557 271 L557.2 278.4 L557.4 284.9 L557.6 290.4 L557.8 294.6 L558 297.3 L558.2 298.4 L558.4 297.8 L558.6 295.9 L558.8 292.8 L559 288.7 L559.2 283.6 L559.4 277.7 L559.6 271.2 L559.8 264.2 L560 256.7 L560.2 249 L560.3 241.1 L560.5 233.3 L560.7 225.6 L560.9 218.1 L561.1 211 L561.3 204.5 L561.5 198.6 L561.7 193.6 L561.9 189.4 L562.1 186.3 L562.3 184.4 L562.5 183.8 L562.7 185.5 L562.9 189.8 L563.1 196.2 L563.3 204.3 L563.5 213.6 L563.7 223.6 L563.9 233.8 L564.1 243.8 L564.3 253.1 L564.5 261.3 L564.7 267.8 L564.9 272.2 L565.1 274 L565.3 273.8 L565.5 273.1 L565.7 271.9 L565.9 270.4 L566.1 268.5 L566.3 266.4 L566.5 264 L566.7 261.5 L566.8 258.9 L567 256.2 L567.2 253.6 L567.4 251 L567.6 248.5 L567.8 246.3 L568 244.3 L568.2 242.5 L568.4 241.2 L568.6 240.2 L568.8 239.7 L569 239.8 L569.2 240.6 L569.4 241.9 L569.6 243.8 L569.8 246.2 L570 249 L570.2 252.2 L570.4 255.6 L570.6 259.4 L570.8 263.3 L571 267.3 L571.2 271.3 L571.4 275.4 L571.6 279.3 L571.8 283.2 L572 286.8 L572.2 290.2 L572.4 293.3 L572.6 295.9 L572.8 298.2 L573 299.9 L573.2 301.1 L573.3 301.6 L573.5 301.3 L573.7 300 L573.9 297.8 L574.1 294.8 L574.3 291 L574.5 286.6 L574.7 281.6 L574.9 276.2 L575.1 270.5 L575.3 264.5 L575.5 258.4 L575.7 252.3 L575.9 246.2 L576.1 240.3 L576.3 234.6 L576.5 229.3 L576.7 224.4 L576.9 220 L577.1 216.4 L577.3 213.4 L577.5 211.3 L577.7 210.2 L577.9 210.3 L578.1 213.3 L578.3 219.1 L578.5 227.3 L578.7 237.2 L578.9 248.3 L579.1 260 L579.3 271.8 L579.5 283.3 L579.7 293.7 L579.8 302.6 L580 309.4 L580.2 313.6 L580.4 314.7 L580.6 313.1 L580.8 309.6 L581 304.2 L581.2 297.3 L581.4 289.1 L581.6 279.7 L581.8 269.5 L582 258.6 L582.2 247.2 L582.4 235.6 L582.6 224.1 L582.8 212.8 L583 201.9 L583.2 191.7 L583.4 182.5 L583.6 174.4 L583.8 167.6 L584 162.4 L584.2 159 L584.4 157.7 L584.6 158.4 L584.8 160.8 L585 164.4 L585.2 169.1 L585.4 174.5 L585.6 180.2 L585.8 186 L586 191.5 L586.2 196.5 L586.3 200.6 L586.5 203.5 L586.7 204.9 L586.9 204.4 L587.1 202 L587.3 198 L587.5 192.8 L587.7 187 L587.9 180.8 L588.1 174.9 L588.3 169.5 L588.5 165.2 L588.7 162.3 L588.9 161.3 L589.1 163.5 L589.3 168.9 L589.5 176.6 L589.7 185.5 L589.9 194.7 L590.1 203.2 L590.3 210 L590.5 214 L590.7 214.6 L590.9 213.9 L591.1 212.6 L591.3 210.7 L591.5 208.4 L591.7 205.9 L591.9 203.4 L592.1 200.8 L592.3 198.5 L592.5 196.5 L592.7 194.9 L592.8 193.9 L593 193.7 L593.2 194.2 L593.4 195.4 L593.6 197.2 L593.8 199.5 L594 202.5 L594.2 206.1 L594.4 210.1 L594.6 214.7 L594.8 219.8 L595 225.3 L595.2 231.3 L595.4 237.6 L595.6 244.4 L595.8 251.5 L596 259"/><path d="M597.3 286 L597.5 307.6 L597.7 329.2 L598 350.7 L598.2 372.3 L598.4 393.9"/><path d="M601.8 367.3 L602 379 L602.2 390.1 L602.4 400.4 L602.6 409.5 L602.8 418.1 L603 427 L603.2 435.8 L603.4 444 L603.6 451 L603.8 456.4 L604 459.6 L604.2 460.3 L604.4 459.9 L604.6 459 L604.8 457.8 L604.9 456.3 L605.1 454.5 L605.3 452.5 L605.5 450.3 L605.7 448.2 L605.9 446 L606.1 443.8 L606.3 441.8 L606.5 440 L606.7 438.4 L606.9 437.1 L607.1 436.2 L607.3 435.8 L607.5 435.8 L607.7 436.3 L607.9 437.3 L608.1 438.7 L608.3 440.4 L608.5 442.4 L608.7 444.7 L608.9 447.1 L609.1 449.7 L609.3 452.3 L609.5 454.9 L609.7 457.4 L609.9 459.9 L610.1 462.2 L610.3 464.3 L610.5 466.1 L610.7 467.5 L610.9 468.6 L611 469.2 L611.2 469.4 L611.4 469.3 L611.6 469 L611.8 468.7 L612 468.2 L612.2 467.6 L612.4 466.9 L612.6 466.1 L612.8 465.2 L613 464.3 L613.2 463.3 L613.4 462.2 L613.6 461.1 L613.8 460 L614 458.8 L614.2 457.7 L614.4 456.5 L614.6 455.3 L614.8 454.2 L615 453 L615.2 451.9 L615.4 450.9 L615.6 449.9 L615.8 448.9 L616 448 L616.2 447.2 L616.4 446.5 L616.6 445.9 L616.8 445.4 L617 445.1 L617.2 444.8 L617.3 444.7 L617.5 444.8 L617.7 445.3 L617.9 446.2 L618.1 447.3 L618.3 448.7 L618.5 450.2 L618.7 451.8 L618.9 453.5 L619.1 455.1 L619.3 456.6 L619.5 458 L619.7 459.2 L619.9 460.2 L620.1 460.8 L620.3 461 L620.5 460.9 L620.7 460.5 L620.9 460 L621.1 459.2 L621.3 458.3 L621.5 457.3 L621.7 456.1 L621.9 454.9 L622.1 453.6 L622.3 452.2 L622.5 450.8 L622.7 449.3 L622.9 447.9 L623.1 446.6 L623.3 445.2 L623.4 444 L623.6 442.9 L623.8 441.8 L624 441 L624.2 440.2 L624.4 439.7 L624.6 439.4 L624.8 439.3 L625 439.5 L625.2 440 L625.4 440.8 L625.6 441.9 L625.8 443.1 L626 444.5 L626.2 446 L626.4 447.6 L626.6 449.3 L626.8 451 L627 452.6 L627.2 454.2 L627.4 455.8 L627.6 457.2 L627.8 458.4 L628 459.4 L628.2 460.2 L628.4 460.8 L628.6 461 L628.8 461 L629 461 L629.2 461 L629.4 460.9 L629.5 460.9 L629.7 460.8 L629.9 460.7 L630.1 460.7 L630.3 460.6 L630.5 460.5 L630.7 460.4 L630.9 460.3 L631.1 460.2 L631.3 460 L631.5 459.9 L631.7 459.8 L631.9 459.6 L632.1 459.5 L632.3 459.4 L632.5 459.2 L632.7 459.1 L632.9 458.9 L633.1 458.7 L633.3 458.6 L633.5 458.4 L633.7 458.3 L633.9 458.1 L634.1 458 L634.3 457.8 L634.5 457.6 L634.7 457.5 L634.9 457.3 L635.1 457 L635.3 456.8 L635.5 456.5 L635.7 456.2 L635.8 455.9 L636 455.6 L636.2 455.2 L636.4 454.9 L636.6 454.6 L636.8 454.2 L637 453.9 L637.2 453.6 L637.4 453.2 L637.6 452.9 L637.8 452.7 L638 452.4 L638.2 452.1 L638.4 451.9 L638.6 451.7 L638.8 451.5 L639 451.4 L639.2 451.3 L639.4 451.2 L639.6 451.2 L639.8 451.3 L640 451.5 L640.2 451.9 L640.4 452.4 L640.6 453.1 L640.8 453.9 L641 454.7 L641.2 455.7 L641.4 456.7 L641.6 457.8 L641.8 458.9 L641.9 460.1 L642.1 461.2 L642.3 462.4 L642.5 463.5 L642.7 464.7 L642.9 465.7 L643.1 466.8 L643.3 467.7 L643.5 468.6 L643.7 469.4 L643.9 470 L644.1 470.6 L644.3 471 L644.5 471.2 L644.7 471.3 L644.9 471.2 L645.1 471.1 L645.3 470.9 L645.5 470.6 L645.7 470.2 L645.9 469.7 L646.1 469.2 L646.3 468.6 L646.5 468 L646.7 467.3 L646.9 466.7 L647.1 466 L647.3 465.2 L647.5 464.5 L647.7 463.8 L647.9 463 L648 462.3 L648.2 461.6 L648.4 460.9 L648.6 460.2 L648.8 459.6 L649 459.1 L649.2 458.6 L649.4 458.1 L649.6 457.7 L649.8 457.4 L650 457.2 L650.2 457 L650.4 457 L650.6 457 L650.8 457.2 L651 457.3 L651.2 457.6 L651.4 457.8 L651.6 458.2 L651.8 458.5 L652 458.9 L652.2 459.2 L652.4 459.6 L652.6 459.9 L652.8 460.3 L653 460.6 L653.2 460.9 L653.4 461.1 L653.6 461.3 L653.8 461.4 L654 461.5 L654.2 461.5 L654.3 461.5 L654.5 461.5 L654.7 461.5 L654.9 461.4 L655.1 461.4 L655.3 461.4 L655.5 461.3 L655.7 461.3 L655.9 461.3 L656.1 461.2 L656.3 461.2 L656.5 461.1 L656.7 461.1 L656.9 461 L657.1 461 L657.3 460.9 L657.5 460.9 L657.7 460.8 L657.9 460.8 L658.1 460.7 L658.3 460.7 L658.5 460.7 L658.7 460.6 L658.9 460.6 L659.1 460.6 L659.3 460.5 L659.5 460.5 L659.7 460.5 L659.9 460.5 L660.1 460.5 L660.3 460.5 L660.4 460.5 L660.6 460.5 L660.8 460.6 L661 460.6 L661.2 460.6 L661.4 460.7 L661.6 460.7 L661.8 460.8 L662 460.8 L662.2 460.9 L662.4 460.9 L662.6 461 L662.8 461.1 L663 461.1 L663.2 461.2 L663.4 461.3 L663.6 461.4 L663.8 461.4 L664 461.5 L664.2 461.6 L664.4 461.7 L664.6 461.8 L664.8 461.9 L665 462 L665.2 462.1 L665.4 462.2 L665.6 462.4 L665.8 462.7 L666 462.9 L666.2 463.2 L666.4 463.5 L666.5 463.8 L666.7 464.1 L666.9 464.4 L667.1 464.7 L667.3 465 L667.5 465.4 L667.7 465.7 L667.9 466 L668.1 466.2 L668.3 466.5 L668.5 466.7 L668.7 466.9 L668.9 467.1 L669.1 467.3 L669.3 467.3 L669.5 467.4 L669.7 467.4 L669.9 467 L670.1 466.3 L670.3 465.3 L670.5 464.1 L670.7 462.7 L670.9 461.1 L671.1 459.4 L671.3 457.5 L671.5 455.7 L671.7 453.8 L671.9 451.9 L672.1 450.1 L672.3 448.4 L672.5 446.8 L672.7 445.4 L672.8 444.3 L673 443.3 L673.2 442.7 L673.4 442.4 L673.6 442.5 L673.8 443.1 L674 444 L674.2 445.3 L674.4 446.9 L674.6 448.7 L674.8 450.6 L675 452.7 L675.2 454.7 L675.4 456.8 L675.6 458.7 L675.8 460.5 L676 462 L676.2 463.3 L676.4 464.2 L676.6 464.7 L676.8 464.8 L677 464.6 L677.2 464.1 L677.4 463.5 L677.6 462.7 L677.8 461.8 L678 460.7 L678.2 459.5 L678.4 458.2 L678.6 456.9 L678.8 455.5 L678.9 454.1 L679.1 452.7 L679.3 451.3 L679.5 450 L679.7 448.7 L679.9 447.5 L680.1 446.5 L680.3 445.5 L680.5 444.7 L680.7 444.1 L680.9 443.6 L681.1 443.4 L681.3 443.4 L681.5 443.5 L681.7 443.8 L681.9 444.1 L682.1 444.6 L682.3 445.1 L682.5 445.7 L682.7 446.4 L682.9 447.1 L683.1 447.9 L683.3 448.7 L683.5 449.6 L683.7 450.5 L683.9 451.4 L684.1 452.3 L684.3 453.3 L684.5 454.2 L684.7 455.1 L684.9 456 L685 456.8 L685.2 457.6 L685.4 458.4 L685.6 459.1 L685.8 459.7 L686 460.3 L686.2 460.7 L686.4 461.1 L686.6 461.4 L686.8 461.5 L687 461.6 L687.2 461.5 L687.4 461.3 L687.6 461 L687.8 460.7 L688 460.2 L688.2 459.7 L688.4 459.1 L688.6 458.4 L688.8 457.7 L689 457 L689.2 456.3 L689.4 455.6 L689.6 454.9 L689.8 454.2 L690 453.5 L690.2 452.8 L690.4 452.3 L690.6 451.8 L690.8 451.3 L691 451 L691.2 450.7 L691.3 450.5 L691.5 450.5 L691.7 450.8 L691.9 451.4 L692.1 452.2 L692.3 453.4 L692.5 454.7 L692.7 456.3 L692.9 458 L693.1 459.7 L693.3 461.6 L693.5 463.4 L693.7 465.3 L693.9 467.1 L694.1 468.8 L694.3 470.4 L694.5 471.8 L694.7 473.1 L694.9 474 L695.1 474.7 L695.3 475.1 L695.5 475.2 L695.7 475 L695.9 474.7 L696.1 474.3 L696.3 473.7 L696.5 473 L696.7 472.1 L696.9 471.2 L697.1 470.2 L697.3 469.1 L697.4 468 L697.6 466.8 L697.8 465.6 L698 464.3 L698.2 463 L698.4 461.7 L698.6 460.5 L698.8 459.2 L699 458 L699.2 456.8 L699.4 455.7 L699.6 454.6 L699.8 453.6 L700 452.8 L700.2 452 L700.4 451.3 L700.6 450.8 L700.8 450.4 L701 450.1 L701.2 450 L701.4 450.2 L701.6 450.9 L701.8 451.9 L702 453.2 L702.2 454.9 L702.4 456.7 L702.6 458.6 L702.8 460.6 L703 462.6 L703.2 464.6 L703.4 466.5 L703.5 468.2 L703.7 469.6 L703.9 470.8 L704.1 471.6 L704.3 472 L704.5 472 L704.7 471.8 L704.9 471.4 L705.1 471 L705.3 470.4 L705.5 469.8 L705.7 469 L705.9 468.3 L706.1 467.4 L706.3 466.6 L706.5 465.8 L706.7 464.9 L706.9 464.1 L707.1 463.4 L707.3 462.7 L707.5 462.1 L707.7 461.6 L707.9 461.2 L708.1 460.9 L708.3 460.8 L708.5 460.9 L708.7 461.3 L708.9 461.9 L709.1 462.7 L709.3 463.6 L709.5 464.7 L709.7 465.8 L709.8 467 L710 468.2 L710.2 469.4 L710.4 470.5 L710.6 471.5 L710.8 472.4 L711 473.1 L711.2 473.6 L711.4 473.9 L711.6 473.9 L711.8 473.6 L712 473 L712.2 472.3 L712.4 471.4 L712.6 470.3 L712.8 469.1 L713 467.7 L713.2 466.3 L713.4 464.8 L713.6 463.2 L713.8 461.6 L714 460.1 L714.2 458.5 L714.4 457 L714.6 455.6 L714.8 454.3 L715 453.1 L715.2 452.1 L715.4 451.2 L715.6 450.6 L715.8 450.1 L715.9 449.9 L716.1 450 L716.3 450.3 L716.5 451 L716.7 451.9 L716.9 453 L717.1 454.3 L717.3 455.9 L717.5 457.7 L717.7 459.6 L717.9 461.7 L718.1 463.9 L718.3 466.3 L718.5 468.8 L718.7 471.3 L718.9 474"/>
</g>
<path d="M108.6 376.7 L109 378.6 L109.4 391.2 L109.8 373 L110.2 399 L110.6 391.3 L111 387.4 L111.4 393.6 L111.7 369.6 L112.1 411.2 L112.5 345.8 L112.9 354.3 L113.3 338 L113.7 288.6 L114.1 271.6 L114.5 245.2 L114.9 233.5 L115.3 260.9 L115.7 254.7 L116.1 244.5 L116.5 207.1 L116.9 237 L117.3 271.7 L117.7 265.6 L118 312.4 L118.4 322.7 L118.8 372.3 L119.2 375.7 L119.6 419.2 L120 395.8 L120.4 433 L120.8 418.6 L121.2 437.9 L121.6 340.1 L122 394.2 L122.4 298.9 L122.8 424 L123.2 261.5 L123.6 174.9 L124 161.1 L124.4 162 L124.7 155.3 L125.1 136.6 L125.5 150.7 L125.9 179.6 L126.3 191.9 L126.7 222.9 L127.1 190.9 L127.5 226.9 L127.9 185.9 L128.3 228.7 L128.7 141.4 L129.1 95.8 L129.5 67.1 L129.9 73.1 L130.3 172.4 L130.7 162.7 L131 228.7 L131.4 326.3 L131.8 402.1 L132.2 406.8 L132.6 387.1 L133 343.3 L133.4 267.2 L133.8 240 L134.2 201.9 L134.6 179.3 L135 242.1 L135.4 269.5 L135.8 235.6 L136.2 353.5 L136.6 314.8 L137 321.3 L137.4 350 L137.7 260.5 L138.1 223.9 L138.5 79.4 L138.9 79 L139.3 91.5 L139.7 155.5 L140.1 166.6 L140.5 126.5 L140.9 201 L141.3 137.3 L141.7 200.7 L142.1 112.2 L142.5 219.9 L142.9 129.2 L143.3 159.4 L143.7 84.1 L144 112.7 L144.4 173.9 L144.8 149.6 L145.2 194.6 L145.6 162.4 L146 201.4 L146.4 148.3 L146.8 202.6 L147.2 139.2 L147.6 353 L148 397.5 L148.4 410 L148.8 391 L149.2 421.4 L149.6 407.1 L150 438 L150.4 416.8 L150.7 422.6 L151.1 414.9 L151.5 425 L151.9 406.4 L152.3 451.5 L152.7 419.4 L153.1 397.6 L153.5 378 L153.9 416 L154.3 394.3 L154.7 395.8 L155.1 396 L155.5 453.2 L155.9 437.5 L156.3 437.6 L156.7 425.9 L157 428.9 L157.4 368.4 L157.8 477.3 L158.2 430.1 L158.6 381.6 L159 418.8 L159.4 446.3 L159.8 420.8 L160.2 416.3 L160.6 415.9 L161 414.8 L161.4 462.5 L161.8 388.4 L162.2 377.9 L162.6 383.5 L163 380.4 L163.4 381.1 L163.7 358.8 L164.1 341 L164.5 352.8 L164.9 378.7 L165.3 342.5 L165.7 367.2 L166.1 373.5 L166.5 398.5 L166.9 396.9 L167.3 383.1 L167.7 411.4 L168.1 370.9 L168.5 399.9 L168.9 396.9 L169.3 418.1 L169.7 396.2 L170 399.6 L170.4 394 L170.8 447 L171.2 426.3 L171.6 414.4 L172 428.3 L172.4 426.8 L172.8 387 L173.2 424.3 L173.6 411.4 L174 461.6 L174.4 419.7 L174.8 427.2 L175.2 415.7 L175.6 406.4 L176 438.7 L176.4 419.3 L176.7 404.2 L177.1 375 L177.5 422.1 L177.9 398.7 L178.3 421.2 L178.7 411.5 L179.1 409.6 L179.5 420.3 L179.9 346.4 L180.3 417 L180.7 441.2 L181.1 413.7 L181.5 440.9 L181.9 474.1 L182.3 423.4 L182.7 442.9 L183 419.7 L183.4 427.6 L183.8 391.5 L184.2 437.2 L184.6 428.6 L185 413.5 L185.4 424.4 L185.8 416.9 L186.2 424.2 L186.6 458.6 L187 406.6 L187.4 381.2 L187.8 406.5 L188.2 426.2 L188.6 426.4 L189 423.9 L189.4 410.7 L189.7 420 L190.1 438.3 L190.5 430.7 L190.9 470.9 L191.3 446.4 L191.7 443.3 L192.1 421.9 L192.5 440.9 L192.9 428.1 L193.3 414.9 L193.7 446.3 L194.1 387.4 L194.5 431.7 L194.9 446.8 L195.3 440.2 L195.7 430.9 L196 420.6 L196.4 465.7 L196.8 426 L197.2 435.6 L197.6 424.2 L198 419.3 L198.4 299.3 L198.8 330.1 L199.2 335.3 L199.6 317.3 L200 274.7 L200.4 253.9 L200.8 270.8 L201.2 268.7 L201.6 278.9 L202 121.3 L202.4 226.4 L202.7 183.4 L203.1 262.9 L203.5 278.4 L203.9 273.7 L204.3 303.5 L204.7 332.3 L205.1 427.7 L205.5 360.5 L205.9 382.5 L206.3 399.3 L206.7 402.8 L207.1 426.7 L207.5 391.1 L207.9 443.8 L208.3 360.4 L208.7 345.1 L209 300.9 L209.4 305.8 L209.8 270 L210.2 307.6 L210.6 304.3 L211 302.8 L211.4 339.7 L211.8 346.5 L212.2 366.5 L212.6 395.2 L213 428.6 L213.4 399 L213.8 391.6 L214.2 394.8 L214.6 411.7 L215 403.4 L215.4 371.1 L215.7 347.6 L216.1 416 L216.5 313.7 L216.9 312.5 L217.3 303.1 L217.7 309.2 L218.1 292.9 L218.5 268.4 L218.9 299.1 L219.3 256.4 L219.7 301.4 L220.1 358.3 L220.5 384.5 L220.9 389.3 L221.3 355 L221.7 351.5 L222 283.6 L222.4 331 L222.8 321.3 L223.2 293.1 L223.6 267.6 L224 304.9 L224.4 280 L224.8 211.6 L225.2 316.2 L225.6 292.3 L226 303.7 L226.4 336.4 L226.8 357.8 L227.2 314.7 L227.6 321.9 L228 318.3 L228.4 273.1 L228.7 274.4 L229.1 229.2 L229.5 217.7 L229.9 232.1 L230.3 232.1 L230.7 229 L231.1 203.6 L231.5 296.3 L231.9 444.5 L232.3 337.2 L232.7 444.1 L233.1 414 L233.5 403.1 L233.9 411 L234.3 412.7 L234.7 390.7 L235 389.1 L235.4 381 L235.8 440.6 L236.2 374.8 L236.6 326.1 L237 374.8 L237.4 324.7 L237.8 294.5 L238.2 344.7 L238.6 349.8 L239 344.9 L239.4 353.2 L239.8 357.5 L240.2 348.8 L240.6 351.1 L241 377.9 L241.4 382.4 L241.7 374.6 L242.1 431.9 L242.5 386.8 L242.9 437 L243.3 415.3 L243.7 420.1 L244.1 337 L244.5 406 L244.9 416.5 L245.3 440.5 L245.7 370.2 L246.1 387.4 L246.5 387.6 L246.9 368.5 L247.3 422.9 L247.7 390.8 L248 393.4 L248.4 400.8 L248.8 423.3 L249.2 424.5 L249.6 391.9 L250 406.9 L250.4 435.6 L250.8 434.9 L251.2 461.5 L251.6 426.1 L252 437 L252.4 441.2 L252.8 433.2 L253.2 417.9 L253.6 401.6 L254 430.3 L254.4 384.1 L254.7 401.1 L255.1 368.9 L255.5 372.5 L255.9 369 L256.3 459.6 L256.7 320 L257.1 312.7 L257.5 315.5 L257.9 328.4 L258.3 310.8 L258.7 308.7 L259.1 281.6 L259.5 373.6 L259.9 341.9 L260.3 381.9 L260.7 411.7 L261 401.3 L261.4 433.4 L261.8 427.8 L262.2 462 L262.6 454.4 L263 428.6 L263.4 430.5 L263.8 467.8 L264.2 451.9 L264.6 423.3 L265 448.8 L265.4 474 L265.8 443.2 L266.2 397.7 L266.6 428.3 L267 450.6 L267.4 420.5 L267.7 441.5 L268.1 430 L268.5 436.8 L268.9 447.6 L269.3 425.5 L269.7 424 L270.1 467.3 L270.5 443.2 L270.9 442.1 L271.3 437.8 L271.7 395.8 L272.1 446.9 L272.5 418.5 L272.9 437.3 L273.3 439.9 L273.7 412.3 L274 420.5 L274.4 455.6 L274.8 427.5 L275.2 403.5 L275.6 420 L276 406 L276.4 454.2 L276.8 426.6 L277.2 412.1 L277.6 426.9 L278 410.7 L278.4 401.8 L278.8 457 L279.2 421.4 L279.6 414 L280 240 L280.4 434 L280.7 464.9 L281.1 444.5 L281.5 425.9 L281.9 409.9 L282.3 398.5 L282.7 423.2 L283.1 353.8 L283.5 407.4 L283.9 398.9 L284.3 408.3 L284.7 382.8 L285.1 381.1 L285.5 383.7 L285.9 387.7 L286.3 425.7 L286.7 427.7 L287 440.3 L287.4 415.9 L287.8 368 L288.2 437 L288.6 472 L289 456 L289.4 440.1 L289.8 436.2 L290.2 450.8 L290.6 438.6 L291 443 L291.4 434.3 L291.8 423.3 L292.2 447.2 L292.6 395.2 L293 431.2 L293.4 435.9 L293.7 438.1 L294.1 421.5 L294.5 438 L294.9 440.6 L295.3 428.2 L295.7 436.9 L296.1 424.2 L296.5 397.7 L296.9 473 L297.3 435.6 L297.7 453.7 L298.1 446.4 L298.5 447.7 L298.9 425.5 L299.3 437.8 L299.7 474 L300 446.8 L300.4 458.4 L300.8 443.5 L301.2 454.3 L301.6 421.4 L302 459.4 L302.4 422.1 L302.8 412.7 L303.2 406.4 L303.6 397.5 L304 418.6 L304.4 397.4 L304.8 397.2 L305.2 404.3 L305.6 385 L306 421.6 L306.4 407.7 L306.7 418.3 L307.1 413.9 L307.5 442.5 L307.9 420.6 L308.3 426.2 L308.7 422 L309.1 459.6 L309.5 438.2 L309.9 449.4 L310.3 459 L310.7 440.3 L311.1 397.7 L311.5 427.4 L311.9 415.2 L312.3 420.1 L312.7 408.6 L313 414.7 L313.4 417.4 L313.8 425.9 L314.2 386 L314.6 409.9 L315 411.9 L315.4 419.2 L315.8 418.2 L316.2 418 L316.6 406.1 L317 420.3 L317.4 414.7 L317.8 460.9 L318.2 420.2 L318.6 407.4 L319 397.7 L319.4 420.8 L319.7 398.3 L320.1 426.6 L320.5 409.4 L320.9 414.9 L321.3 413.3 L321.7 408.1 L322.1 394.2 L322.5 417.2 L322.9 385 L323.3 464.5 L323.7 437.9 L324.1 411.1 L324.5 423.8 L324.9 438.8 L325.3 363.9 L325.7 441.5 L326 468.6 L326.4 421.3 L326.8 450.4 L327.2 426.5 L327.6 428.7 L328 453.7 L328.4 455.1 L328.8 428.3 L329.2 455.4 L329.6 430.2 L330 439.1 L330.4 421.8 L330.8 433.6 L331.2 428.8 L331.6 426.9 L332 437.1 L332.4 410.3 L332.7 410.9 L333.1 416.3 L333.5 434 L333.9 424.9 L334.3 394.6 L334.7 396.1 L335.1 351.7 L335.5 361.9 L335.9 397.2 L336.3 410.3 L336.7 282 L337.1 415.6 L337.5 408 L337.9 409.4 L338.3 417.3 L338.7 418.9 L339 440.6 L339.4 401 L339.8 417.3 L340.2 413.9 L340.6 378.7 L341 387 L341.4 374.2 L341.8 386.6 L342.2 393 L342.6 388.4 L343 405.2 L343.4 422.5 L343.8 377.4 L344.2 413.4 L344.6 421 L345 434.9 L345.4 424.4 L345.7 421.2 L346.1 413.5 L346.5 488.3 L346.9 407.2 L347.3 376.8 L347.7 405.6 L348.1 410.2 L348.5 429.1 L348.9 427.6 L349.3 415.1 L349.7 416.2 L350.1 419.7 L350.5 412.9 L350.9 411.2 L351.3 431 L351.7 401.4 L352 429.1 L352.4 447.7 L352.8 409.7 L353.2 429.9 L353.6 414.3 L354 396.8 L354.4 430.7 L354.8 389 L355.2 427.7 L355.6 438.5 L356 418.9 L356.4 432.7 L356.8 461.9 L357.2 434.3 L357.6 432.2 L358 419.5 L358.4 431.2 L358.7 434.1 L359.1 420.2 L359.5 421.3 L359.9 417.8 L360.3 420.5 L360.7 425.4 L361.1 391 L361.5 423.5 L361.9 412 L362.3 421.1 L362.7 415.5 L363.1 408.4 L363.5 478.6 L363.9 412.5 L364.3 443.8 L364.7 407.9 L365 403.6 L365.4 393.8 L365.8 411.5 L366.2 411.2 L366.6 355.4 L367 395.7 L367.4 376.9 L367.8 461.2 L368.2 381.8 L368.6 371.7 L369 365 L369.4 420.5 L369.8 402.5 L370.2 418 L370.6 428.2 L371 427.3 L371.4 422.2 L371.7 407.9 L372.1 439.3 L372.5 409.8 L372.9 444.6 L373.3 381.6 L373.7 418.3 L374.1 409.5 L374.5 403.7 L374.9 354.7 L375.3 384.7 L375.7 387.8 L376.1 383.2 L376.5 387.7 L376.9 383.1 L377.3 385.3 L377.7 424.1 L378 387.8 L378.4 368.4 L378.8 412.7 L379.2 454.1 L379.6 400.6 L380 393.6 L380.4 437.8 L380.8 427.1 L381.2 378 L381.6 436 L382 424 L382.4 438.6 L382.8 420.5 L383.2 437.3 L383.6 473.5 L384 420.7 L384.4 422.4 L384.7 401.3 L385.1 450.2 L385.5 423.4 L385.9 430.5 L386.3 409.7 L386.7 432.2 L387.1 396 L387.5 414.4 L387.9 422.7 L388.3 464.5 L388.7 418.2 L389.1 445.6 L389.5 414.1 L389.9 431.5 L390.3 421.3 L390.7 416.3 L391 453.2 L391.4 426.1 L391.8 431.5 L392.2 385 L392.6 421.6 L393 406 L393.4 461.9 L393.8 407 L394.2 436.8 L394.6 462.2 L395 459.4 L395.4 409.5 L395.8 405.3 L396.2 387 L396.6 426.1 L397 417.6 L397.4 427.9 L397.7 480.6 L398.1 424.4 L398.5 415.1 L398.9 390.3 L399.3 413.2 L399.7 442.2 L400.1 428.6 L400.5 437.5 L400.9 436.7 L401.3 418.7 L401.7 436.7 L402.1 457 L402.5 424.9 L402.9 430.1 L403.3 430.6 L403.7 426 L404 420.1 L404.4 423.9 L404.8 438.9 L405.2 463.8 L405.6 383.2 L406 429.8 L406.4 430.5 L406.8 422.5 L407.2 413.5 L407.6 415.3 L408 411.9 L408.4 356.3 L408.8 392.1 L409.2 350.5 L409.6 326 L410 322.6 L410.4 426.3 L410.7 441.3 L411.1 420.9 L411.5 298 L411.9 352.2 L412.3 341.6 L412.7 340.2 L413.1 352.2 L413.5 377.8 L413.9 370.3 L414.3 370 L414.7 380 L415.1 408.8 L415.5 472.6 L415.9 428.6 L416.3 437.1 L416.7 413.4 L417 425.1 L417.4 392.3 L417.8 391.1 L418.2 383.2 L418.6 317.4 L419 353.2 L419.4 363.3 L419.8 388.4 L420.2 381.1 L420.6 405.8 L421 386.3 L421.4 446.7 L421.8 423.1 L422.2 422.4 L422.6 372.2 L423 404.5 L423.3 394.7 L423.7 415.9 L424.1 402.4 L424.5 425 L424.9 387 L425.3 448.7 L425.7 402.9 L426.1 404.2 L426.5 412.8 L426.9 437.6 L427.3 414.8 L427.7 405.3 L428.1 417.1 L428.5 414.6 L428.9 405.8 L429.3 407.6 L429.7 344.5 L430 397.1 L430.4 408.2 L430.8 413.5 L431.2 468 L431.6 379.3 L432 428.4 L432.4 456.6 L432.8 431.8 L433.2 439 L433.6 442.9 L434 433.9 L434.4 443.6 L434.8 435.8 L435.2 445 L435.6 464.8 L436 434 L436.3 444.6 L436.7 437.6 L437.1 419.1 L437.5 418.9 L437.9 404.7 L438.3 413.3 L438.7 369.2 L439.1 431.8 L439.5 351 L439.9 364.2 L440.3 381.8 L440.7 372.2 L441.1 326 L441.5 381.1 L441.9 393.1 L442.3 411.1 L442.7 418 L443 433.5 L443.4 442.4 L443.8 448.3 L444.2 488 L444.6 432.3 L445 436.5 L445.4 441.2 L445.8 424.4 L446.2 433.8 L446.6 423.7 L447 435.6 L447.4 408.7 L447.8 430.5 L448.2 380.6 L448.6 403.8 L449 421.7 L449.3 451.2 L449.7 412.8 L450.1 411.3 L450.5 437.1 L450.9 435.3 L451.3 446.8 L451.7 430.8 L452.1 418.5 L452.5 433.2 L452.9 436.7 L453.3 447.5 L453.7 471.6 L454.1 383.2 L454.5 433 L454.9 430.9 L455.3 433.3 L455.7 437.7 L456 427.2 L456.4 458.3 L456.8 406.6 L457.2 427.6 L457.6 377.4 L458 420.5 L458.4 427.8 L458.8 414.1 L459.2 413.6 L459.6 400.3 L460 389.8 L460.4 432.4 L460.8 445.4 L461.2 437.8 L461.6 459.6 L462 434 L462.3 401.2 L462.7 456.9 L463.1 447.9 L463.5 453.9 L463.9 452.7 L464.3 461.8 L464.7 471.3 L465.1 430.4 L465.5 466.7 L465.9 427.3 L466.3 432.7 L466.7 420.8 L467.1 436.8 L467.5 425.8 L467.9 411.4 L468.3 383.8 L468.7 411 L469 400.4 L469.4 405 L469.8 394.3 L470.2 368.4 L470.6 397.5 L471 411.1 L471.4 472.5 L471.8 418.2 L472.2 410.2 L472.6 418.5 L473 413.1 L473.4 351.3 L473.8 429.1 L474.2 437 L474.6 437.8 L475 449.2 L475.3 438.1 L475.7 430.3 L476.1 428.4 L476.5 432.2 L476.9 479 L477.3 454.4 L477.7 455.6 L478.1 429.2 L478.5 475 L478.9 420.5 L479.3 415.1 L479.7 367.7 L480.1 428.9 L480.5 370.4 L480.9 406.7 L481.3 379.6 L481.7 386.5 L482 403.1 L482.4 346.4 L482.8 393.8 L483.2 372.7 L483.6 342.6 L484 384.9 L484.4 364.8 L484.8 396.5 L485.2 387.5 L485.6 356.1 L486 400.8 L486.4 391.1 L486.8 422.1 L487.2 415.7 L487.6 425.1 L488 446.8 L488.3 448.7 L488.7 449.5 L489.1 436.3 L489.5 432 L489.9 377.4 L490.3 419.4 L490.7 437.8 L491.1 403.9 L491.5 419.7 L491.9 406.6 L492.3 274.5 L492.7 398.4 L493.1 219.6 L493.5 239.9 L493.9 237.3 L494.3 259.3 L494.7 199.3 L495 249.4 L495.4 236.5 L495.8 292.9 L496.2 215.4 L496.6 207.7 L497 231.3 L497.4 256.6 L497.8 185.8 L498.2 308 L498.6 246.5 L499 290.2 L499.4 250.1 L499.8 241.6 L500.2 243.4 L500.6 230.4 L501 131.9 L501.3 161.8 L501.7 198 L502.1 191.5 L502.5 248.8 L502.9 195.4 L503.3 211.1 L503.7 246.4 L504.1 318.2 L504.5 300.6 L504.9 314.6 L505.3 333.4 L505.7 359.4 L506.1 370.9 L506.5 396 L506.9 288.1 L507.3 296.2 L507.7 247 L508 93.8 L508.4 105.5 L508.8 146 L509.2 138.3 L509.6 160.1 L510 239.6 L510.4 230.1 L510.8 319.6 L511.2 302.2 L511.6 277.2 L512 268.3 L512.4 169.2 L512.8 254.8 L513.2 179.1 L513.6 169.7 L514 190.4 L514.3 315.1 L514.7 269.7 L515.1 292.5 L515.5 238.1 L515.9 301.6 L516.3 249.8 L516.7 301.1 L517.1 237.1 L517.5 304.6 L517.9 242.1 L518.3 190.9 L518.7 236.4 L519.1 298.9 L519.5 255.7 L519.9 305 L520.3 243.1 L520.7 315.1 L521 259.7 L521.4 182.6 L521.8 263.4 L522.2 317.9 L522.6 261.4 L523 324.5 L523.4 247.6 L523.8 294.6 L524.2 240.8 L524.6 302 L525 241.4 L525.4 190.3 L525.8 258.9 L526.2 311.7 L526.6 289.1 L527 318.4 L527.3 293.4 L527.7 297.8 L528.1 245.7 L528.5 317 L528.9 261.3 L529.3 292.4 L529.7 254.9 L530.1 219 L530.5 206.6 L530.9 198.9 L531.3 189.2 L531.7 144 L532.1 224 L532.5 240.4 L532.9 254.1 L533.3 252.3 L533.7 244.5 L534 246 L534.4 279 L534.8 234.3 L535.2 206.4 L535.6 130.6 L536 86.2 L536.4 130.4 L536.8 108.8 L537.2 153.1 L537.6 124.6 L538 164.7 L538.4 223.9 L538.8 149.8 L539.2 224.9 L539.6 157 L540 218.3 L540.3 147.7 L540.7 213.5 L541.1 142.2 L541.5 213.3 L541.9 183.3 L542.3 147.6 L542.7 176.3 L543.1 223.6 L543.5 174.2 L543.9 207.6 L544.3 161.8 L544.7 131.1 L545.1 142.5 L545.5 162.2 L545.9 174.7 L546.3 110.6 L546.7 148.1 L547 151.1 L547.4 182.8 L547.8 190.9 L548.2 231.7 L548.6 266.5 L549 285.4 L549.4 245 L549.8 254.3 L550.2 285.4 L550.6 264.5 L551 260.6 L551.4 226.9 L551.8 268.9 L552.2 225.6 L552.6 259.8 L553 211.5 L553.3 290 L553.7 223.5 L554.1 203.4 L554.5 123.6 L554.9 210.3 L555.3 203.1 L555.7 277.8 L556.1 223.8 L556.5 274.1 L556.9 203 L557.3 267 L557.7 204.4 L558.1 287.3 L558.5 224.4 L558.9 282.4 L559.3 167.4 L559.7 280.1 L560 208.4 L560.4 260.2 L560.8 225.2 L561.2 281.5 L561.6 216.7 L562 205.8 L562.4 155.2 L562.8 206.8 L563.2 212.6 L563.6 273.7 L564 216.1 L564.4 272.1 L564.8 216.7 L565.2 266.9 L565.6 257.8 L566 319 L566.3 282 L566.7 236.3 L567.1 252.9 L567.5 265.9 L567.9 251.7 L568.3 200 L568.7 232.2 L569.1 211.7 L569.5 251.2 L569.9 260.3 L570.3 266.6 L570.7 264.9 L571.1 258.2 L571.5 257.9 L571.9 314.5 L572.3 273.8 L572.7 322.2 L573 290.3 L573.4 316 L573.8 320.4 L574.2 274.1 L574.6 322.9 L575 277.9 L575.4 254.2 L575.8 262.8 L576.2 220.6 L576.6 211.7 L577 199.5 L577.4 176.3 L577.8 209.5 L578.2 200.3 L578.6 221 L579 232.7 L579.3 265.1 L579.7 311.8 L580.1 278.4 L580.5 306.6 L580.9 288.8 L581.3 253.8 L581.7 250.3 L582.1 264.5 L582.5 229.4 L582.9 177.6 L583.3 125 L583.7 147.6 L584.1 174.1 L584.5 118.3 L584.9 149.9 L585.3 152.4 L585.7 163.1 L586 173.2 L586.4 142.2 L586.8 235.8 L587.2 198.3 L587.6 149.4 L588 199.1 L588.4 155 L588.8 198.6 L589.2 148.5 L589.6 215.1 L590 173.2 L590.4 252.8 L590.8 201.2 L591.2 217.7 L591.6 164.2 L592 201.7 L592.3 181.5 L592.7 169 L593.1 181.5 L593.5 213.6 L593.9 203.9 L594.3 200.5 L594.7 202.4 L595.1 201.6 L595.5 247.7 L595.9 262.5 L596.3 301.5 L596.7 298.4 L597.1 261 L597.5 300.3 L597.9 289.5 L598.3 406.3 L598.7 391.8 L599 404.9 L599.4 369.8 L599.8 387 L600.2 382.5 L600.6 372.3 L601 389 L601.4 374.3 L601.8 344.8 L602.2 367.5 L602.6 426.6 L603 397.7 L603.4 426.5 L603.8 444.1 L604.2 480.2 L604.6 451.4 L605 474.7 L605.3 448.6 L605.7 434.7 L606.1 435.9 L606.5 450.1 L606.9 445.7 L607.3 437.7 L607.7 443 L608.1 489.3 L608.5 432.2 L608.9 404.8 L609.3 459 L609.7 455.6 L610.1 454.7 L610.5 459.5 L610.9 469.1 L611.3 475.8 L611.7 469.6 L612 481.5 L612.4 468.6 L612.8 467.2 L613.2 465.9 L613.6 470.8 L614 469.2 L614.4 471.9 L614.8 467.3 L615.2 451.4 L615.6 409.4 L616 450.4 L616.4 459.3 L616.8 452.7 L617.2 435 L617.6 449.4 L618 440 L618.3 477.7 L618.7 460.7 L619.1 446.7 L619.5 417.2 L619.9 459 L620.3 477.8 L620.7 453.8 L621.1 435.2 L621.5 444.3 L621.9 454.1 L622.3 461.3 L622.7 482.8 L623.1 402.5 L623.5 446.1 L623.9 433.3 L624.3 399.4 L624.7 438.7 L625 432.7 L625.4 437.2 L625.8 434.2 L626.2 482.2 L626.6 411.4 L627 443.2 L627.4 445.1 L627.8 477.8 L628.2 455.9 L628.6 484.1 L629 459.7 L629.4 462.5 L629.8 466.4 L630.2 458.2 L630.6 445.1 L631 465.9 L631.3 454.2 L631.7 445.8 L632.1 466.7 L632.5 411 L632.9 451.6 L633.3 471.2 L633.7 454.6 L634.1 453.1 L634.5 480.2 L634.9 456.4 L635.3 445.3 L635.7 466.9 L636.1 448 L636.5 423.3 L636.9 448 L637.3 475.7 L637.7 453.8 L638 446.6 L638.4 449.8 L638.8 453.5 L639.2 449.2 L639.6 454.2 L640 414.5 L640.4 453.6 L640.8 447.9 L641.2 461.6 L641.6 459.4 L642 466.8 L642.4 471.4 L642.8 480.2 L643.2 473.6 L643.6 455.4 L644 471.7 L644.3 443.7 L644.7 474 L645.1 484.7 L645.5 474.1 L645.9 469 L646.3 463.8 L646.7 451.8 L647.1 478.9 L647.5 461.6 L647.9 472.7 L648.3 463.9 L648.7 465.6 L649.1 466.8 L649.5 437.3 L649.9 455.9 L650.3 479.6 L650.7 461.6 L651 463.5 L651.4 454.1 L651.8 470.5 L652.2 478 L652.6 463.8 L653 431.6 L653.4 453.9 L653.8 461.6 L654.2 480.2 L654.6 466.5 L655 472.8 L655.4 458.2 L655.8 454.5 L656.2 429.5 L656.6 458.5 L657 457.8 L657.3 458.7 L657.7 467.6 L658.1 488 L658.5 467.1 L658.9 435.5 L659.3 453.5 L659.7 450 L660.1 461.3 L660.5 454.2 L660.9 458.9 L661.3 444.8 L661.7 453.6 L662.1 477.3 L662.5 468 L662.9 447.6 L663.3 471.9 L663.7 462 L664 468.3 L664.4 428.9 L664.8 454.8 L665.2 454.9 L665.6 459.4 L666 469.3 L666.4 470.5 L666.8 470.4 L667.2 455.1 L667.6 455 L668 462.2 L668.4 478.8 L668.8 474.3 L669.2 486 L669.6 460.2 L670 465.1 L670.3 484.2 L670.7 467.6 L671.1 460.5 L671.5 468.8 L671.9 453 L672.3 473.6 L672.7 446 L673.1 436.6 L673.5 407.1 L673.9 451.7 L674.3 451.5 L674.7 453.6 L675.1 462.9 L675.5 483.5 L675.9 468 L676.3 447.7 L676.7 453.9 L677 460.1 L677.4 486 L677.8 463.1 L678.2 456.8 L678.6 457.3 L679 460.1 L679.4 464.1 L679.8 429.3 L680.2 445.3 L680.6 408.3 L681 442.8 L681.4 484.7 L681.8 451.4 L682.2 437 L682.6 434.4 L683 446.4 L683.3 405.3 L683.7 459.3 L684.1 449.6 L684.5 437.2 L684.9 456.9 L685.3 482.2 L685.7 419.3 L686.1 457 L686.5 465.6 L686.9 462.3 L687.3 452.9 L687.7 464.1 L688.1 458.8 L688.5 436.4 L688.9 453.7 L689.3 453.4 L689.7 457.8 L690 450.8 L690.4 435.3 L690.8 441.3 L691.2 454.3 L691.6 449 L692 482.8 L692.4 449.6 L692.8 442.2 L693.2 456.7 L693.6 432.6 L694 477.5 L694.4 470.4 L694.8 481 L695.2 476 L695.6 469.4 L696 488.6 L696.3 481.5 L696.7 478.9 L697.1 471.8 L697.5 437.9 L697.9 469.1 L698.3 466.5 L698.7 469.8 L699.1 450.5 L699.5 448.7 L699.9 457.6 L700.3 439.5 L700.7 452.7 L701.1 457.1 L701.5 421.5 L701.9 455 L702.3 448.6 L702.7 463.7 L703 473.8 L703.4 450.3 L703.8 466.2 L704.2 471.8 L704.6 472.6 L705 479 L705.4 478.1 L705.8 476 L706.2 445.6 L706.6 470.3 L707 461.6 L707.4 415.2 L707.8 464.2 L708.2 444.1 L708.6 459.5 L709 468.8 L709.3 458.2 L709.7 475.6 L710.1 490.5 L710.5 470.7 L710.9 487.3 L711.3 480.9 L711.7 470.5 L712.1 473.6 L712.5 481.4 L712.9 475.6 L713.3 462.1 L713.7 419.4 L714.1 457.5 L714.5 444.5 L714.9 445 L715.3 459.8 L715.7 434 L716 442.8 L716.4 462.4 L716.8 461.2 L717.2 481.5 L717.6 458.9 L718 445.4 L718.4 453.4 L718.8 478" fill="none" stroke="#000" stroke-width="0.7" stroke-linejoin="miter" stroke-miterlimit="20"/>
</g>
<g fill="none" stroke="#000">
<path d="M108.2 12.3 V523.6 H738.5" stroke-width="2.1" stroke-linecap="square"/>
<path d="M108.2 12.3 H738.5 V523.5" stroke-width="1.7" stroke-linecap="square"/>
<path d="M108.2 523.5 V514.0 M187 523.5 V514.0 M265.8 523.5 V514.0 M344.6 523.5 V514.0 M423.3 523.5 V514.0 M502.1 523.5 V514.0 M580.9 523.5 V514.0 M659.7 523.5 V514.0 M147.6 523.5 V518.9 M226.4 523.5 V518.9 M305.2 523.5 V518.9 M384 523.5 V518.9 M462.7 523.5 V518.9 M541.5 523.5 V518.9 M620.3 523.5 V518.9 M699.1 523.5 V518.9 M108.2 491.6 H117.8 M108.2 427.6 H117.8 M108.2 363.8 H117.8 M108.2 299.9 H117.8 M108.2 235.9 H117.8 M108.2 172.1 H117.8 M108.2 108.1 H117.8 M108.2 44.2 H117.8 M108.2 459.6 H112.9 M108.2 395.7 H112.9 M108.2 331.8 H112.9 M108.2 267.9 H112.9 M108.2 204 H112.9 M108.2 140.1 H112.9 M108.2 76.2 H112.9" stroke-width="2"/>
</g>
<rect x="215.7" y="36.7" width="241.2" height="81.4" fill="#fff" stroke="#555" stroke-width="1"/>
<path d="M220.2 57.2 H288.9" fill="none" stroke="#f00" stroke-width="5" stroke-linecap="round"/>
<path d="M218.8 97 H290.4" fill="none" stroke="#9a9a9a" stroke-width="1.8"/>
<g opacity="0.999">
<g class="tick"><text transform="translate(108.2 551.7) scale(.92 1)" text-anchor="middle">0</text><text transform="translate(187 551.7) scale(.92 1)" text-anchor="middle">200</text><text transform="translate(265.8 551.7) scale(.92 1)" text-anchor="middle">400</text><text transform="translate(344.6 551.7) scale(.92 1)" text-anchor="middle">600</text><text transform="translate(423.3 551.7) scale(.92 1)" text-anchor="middle">800</text><text transform="translate(502.1 551.7) scale(.92 1)" text-anchor="middle">1000</text><text transform="translate(580.9 551.7) scale(.92 1)" text-anchor="middle">1200</text><text transform="translate(659.7 551.7) scale(.92 1)" text-anchor="middle">1400</text><text transform="translate(738.5 551.7) scale(.92 1)" text-anchor="middle">1600</text></g>
<g class="tick"><text transform="translate(98 497.7) scale(.92 1)" text-anchor="end">0.0</text><text transform="translate(98 433.8) scale(.92 1)" text-anchor="end">0.1</text><text transform="translate(98 369.9) scale(.92 1)" text-anchor="end">0.2</text><text transform="translate(98 306) scale(.92 1)" text-anchor="end">0.3</text><text transform="translate(98 242) scale(.92 1)" text-anchor="end">0.4</text><text transform="translate(98 178.2) scale(.92 1)" text-anchor="end">0.5</text><text transform="translate(98 114.2) scale(.92 1)" text-anchor="end">0.6</text><text transform="translate(98 50.3) scale(.92 1)" text-anchor="end">0.7</text></g>
<text class="ttl" x="423.3" y="605.3" text-anchor="middle" letter-spacing="0.7">Chainage (10 m)</text>
<g class="ttl" transform="translate(35.2 424) rotate(-90)">
<text x="0" y="0" textLength="249.5" lengthAdjust="spacing">Maximum Deflection</text>
<text x="249" y="0.5" font-size="23">（</text>
<text x="275.3" y="0" font-size="25.5" textLength="46" lengthAdjust="spacingAndGlyphs">mm</text>
<text x="325" y="0.5" font-size="23">）</text>
</g>
<text class="leg" x="296.6" y="67.6">Original Data</text>
<text class="leg" x="296.6" y="106.8">Denoised Data</text>
</g>
</svg>
</body>
</html>
